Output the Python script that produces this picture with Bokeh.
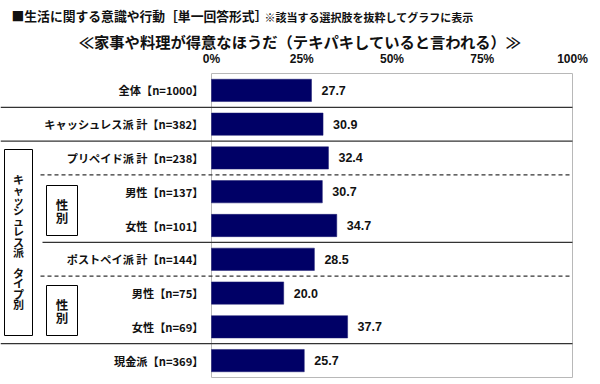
from bokeh.plotting import figure
from bokeh.models import Range1d, ColumnDataSource
from bokeh.core.properties import value
from bokeh.embed import file_html
from bokeh.resources import INLINE

# ---- data ----
categories = ["全体【n=1000】", "キャッシュレス派 計【n=382】", "プリペイド派 計【n=238】",
              "男性【n=137】", "女性【n=101】", "ポストペイ派 計【n=144】",
              "男性【n=75】", "女性【n=69】", "現金派【n=369】"]
values = [27.7, 30.9, 32.4, 30.7, 34.7, 28.5, 20.0, 37.7, 25.7]
tick_values = [0, 25, 50, 75, 100]
tick_labels = ["0%", "25%", "50%", "75%", "100%"]
title_main = "≪家事や料理が得意なほうだ（テキパキしていると言われる）≫"
title_head = "■生活に関する意識や行動［単一回答形式］"
title_note = "※該当する選択肢を抜粋してグラフに表示"
group_label = "キャッシュレス派 タイプ別"
sub_label = "性別"

# ---- layout helpers (pixels -> data) ----
W, H = 600, 384
X0_PX, X100_PX = 211, 572          # px of 0% and 100%
PX_PER_X = (X100_PX - X0_PX) / 100.0
TOP_PX, BOT_PX = 73, 377           # px of the top / bottom of the plot box
N = len(categories)
ROW_PX = (BOT_PX - TOP_PX) / N

def px_x(fx):
    return (fx - X0_PX) / PX_PER_X

def px_y(fy):
    return (fy - TOP_PX) / ROW_PX

JP = value("Noto Sans CJK JP")
AR = value("Liberation Sans")
INK = "#111111"

p = figure(width=W, height=H,
           x_range=Range1d(px_x(0), px_x(W)),
           y_range=Range1d(px_y(H), px_y(0)),
           x_axis_type=None, y_axis_type=None,
           min_border=0, toolbar_location=None, output_backend="svg")
p.grid.visible = False
p.outline_line_color = None
p.background_fill_color = "white"

rows = [i + 0.5 for i in range(N)]
src = ColumnDataSource(dict(
    y=rows, v=values, cat=categories,
    vx=[v + 10 / PX_PER_X for v in values],
    vt=["%.1f" % v for v in values]))

# plot box
p.quad(left=[0], right=[100], top=[0], bottom=[N], fill_color=None,
       line_color="#b8b8b8", line_width=1)

# bars
p.hbar(y="y", left=0, right="v", height=0.66, source=src,
       fill_color="#000066", line_color="#1a1a70", line_width=0.5)

# value labels
p.text(x="vx", y="y", text="vt", source=src, text_font=AR,
       text_font_style="bold", text_font_size="12.5px",
       text_align="left", text_baseline="middle", text_color=INK)

# category labels
p.text(x=px_x(203), y="y", text="cat", source=src, text_font=JP,
       text_font_style="bold", text_font_size="11.2px",
       text_align="right", text_baseline="middle", text_color=INK)

# separators
solid_y = [1, 2, 5, 8]
solid_x0 = [px_x(0), px_x(0), px_x(42), px_x(0)]
p.segment(x0=solid_x0, y0=solid_y, x1=[100] * 4, y1=solid_y,
          line_color="#333333", line_width=1.2)
dash_y = [3, 6]
p.segment(x0=[px_x(40)] * 2, y0=dash_y, x1=[100] * 2, y1=dash_y,
          line_color="#333333", line_width=1.2, line_dash="4 3")

# group boxes
p.quad(left=[px_x(4)], right=[px_x(32)], top=[px_y(149)], bottom=[px_y(335)],
       fill_color="white", line_color="black", line_width=1)
p.quad(left=[px_x(46)] * 2, right=[px_x(77)] * 2,
       top=[px_y(185), px_y(285)], bottom=[px_y(235), px_y(335)],
       fill_color="white", line_color="black", line_width=1)

# vertical group text, one character per slot
chars = list(group_label)
step = 10.4
cy = 241
gy = [px_y(cy + (k - (len(chars) - 1) / 2) * step) for k in range(len(chars))]
p.text(x=[px_x(18)] * len(chars), y=gy, text=chars,
       text_font=JP, text_font_style="bold", text_font_size="11px",
       text_align="center", text_baseline="middle", text_color=INK)

sub_chars = list(sub_label)
sy, sx, st = [], [], []
for c in (210, 310):
    for k, ch in enumerate(sub_chars):
        sy.append(px_y(c + (k - 0.5) * 13))
        sx.append(px_x(61.5))
        st.append(ch)
p.text(x=sx, y=sy, text=st, text_font=JP, text_font_style="bold",
       text_font_size="12.5px", text_align="center", text_baseline="middle",
       text_color=INK)

# x tick labels
p.text(x=tick_values, y=[px_y(58)] * len(tick_values), text=tick_labels,
       text_font=AR, text_font_style="bold", text_font_size="12px",
       text_align="center", text_baseline="middle", text_color=INK)

# titles
p.text(x=[px_x(300)], y=[px_y(40)], text=[title_main], text_font=JP,
       text_font_style="bold", text_font_size="15.3px", text_align="center",
       text_baseline="middle", text_color=INK)
p.text(x=[px_x(11)], y=[px_y(15)], text=[title_head], text_font=JP,
       text_font_style="bold", text_font_size="12.8px", text_align="left",
       text_baseline="middle", text_color=INK)
p.text(x=[px_x(264)], y=[px_y(16)], text=[title_note], text_font=JP,
       text_font_style="bold", text_font_size="11px", text_align="left",
       text_baseline="middle", text_color=INK)

open("out.html", "w").write(file_html(p, INLINE))
